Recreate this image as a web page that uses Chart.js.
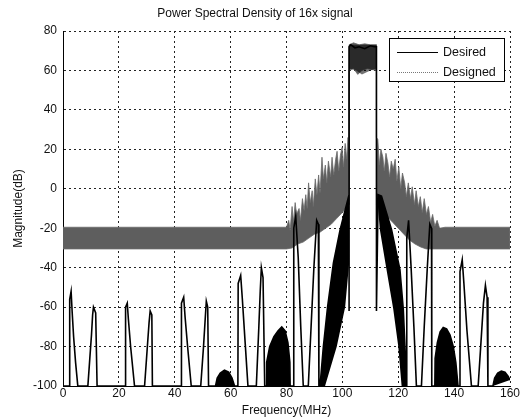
<!DOCTYPE html>
<html>
<head>
<meta charset="utf-8">
<title>Power Spectral Density of 16x signal</title>
<script src="https://cdn.jsdelivr.net/npm/chart.js@4.4.1/dist/chart.umd.min.js"></script>
<style>
  html, body { margin: 0; padding: 0; background: #fff; }
  canvas { display: block; }
</style>
</head>
<body>
<canvas id="canvas" width="531" height="420"></canvas>
<script>
const xTicks = [0, 20, 40, 60, 80, 100, 120, 140, 160];
const yTicks = [-100, -80, -60, -40, -20, 0, 20, 40, 60, 80];

// Desired spectrum as [MHz, dB]
const desiredLobes = [
  [[2.3, -100], [2.4, -56], [2.9, -52], [3.3, -63], [3.8, -75], [4.5, -88], [5.3, -100]],
  [[8.9, -100], [9.6, -86], [10.2, -74], [10.6, -64], [10.9, -60], [11.7, -63], [12.2, -100]],
  [[22.3, -100], [22.4, -60], [23.0, -58], [23.4, -66], [24.2, -80], [25.6, -100]],
  [[29.2, -100], [30.2, -80], [30.8, -68], [31.2, -62], [31.8, -64], [32.0, -100]],
  [[42.3, -100], [42.4, -58], [43.2, -55], [43.7, -65], [44.6, -80], [45.9, -100]],
  [[49.3, -100], [50.3, -80], [50.9, -66], [51.3, -57], [51.8, -60], [52.1, -100]],
  [[62.6, -100], [62.7, -48], [63.6, -44], [64.2, -56], [65.2, -78], [66.2, -100]],
  [[69.2, -100], [70.1, -70], [70.6, -52], [71.0, -40], [71.6, -45], [72.2, -100]],
  [[82.6, -100], [82.6, -20], [83.3, -14], [84.2, -35], [85.1, -70], [86.0, -100]],
  [[87.8, -100], [88.8, -70], [89.8, -40], [90.8, -16], [91.4, -18], [91.6, -100]],
  [[123.0, -100], [123.1, -25], [123.7, -16], [124.6, -40], [125.6, -70], [126.5, -100]],
  [[128.3, -100], [129.3, -70], [130.4, -40], [131.3, -18], [131.9, -20], [132.0, -100]],
  [[142.0, -100], [142.1, -42], [142.9, -36], [143.5, -48], [144.6, -72], [146.2, -100]],
  [[148.6, -100], [149.6, -78], [150.5, -58], [151.2, -49], [151.8, -55], [152.1, -100]]
];
const desiredHumps = [
  [[54.6, -100], [55.2, -96], [56.3, -93.5], [57.8, -92], [59.3, -93], [60.5, -96], [61.4, -100]],
  [[72.8, -100], [72.9, -88], [74, -80], [75.5, -75], [77, -72], [78.3, -70], [79.5, -72], [80.5, -78], [81.2, -88], [81.3, -100]],
  [[133.1, -100], [133.2, -86], [134, -78], [135, -72.5], [136.1, -70.3], [137.3, -71], [138.5, -74], [139.7, -80], [140.6, -88], [141.4, -100]],
  [[153.9, -100], [154.5, -96], [155.6, -93.5], [156.9, -92.4], [158.2, -93], [159.3, -95], [160, -97]]
];
const desiredLeftEdge = [[92.0, -100], [93.2, -80], [94.7, -60], [96.8, -37.6], [99.2, -20.7], [101.5, -8], [102.4, -3], [102.4, -62]];
const desiredPassband = [[102.4, 72], [103, 73], [104.5, 71.5], [106, 72], [108, 71], [110, 72.5], [111.5, 72], [112.2, 72], [112.2, -62]];
const desiredRightEdge = [[112.8, -3], [114, -3.7], [117.6, -20.7], [120.6, -41], [121.8, -61], [122.4, -80], [123, -100]];
const desiredLeftWedge = [[92.0, -100], [93.2, -80], [94.7, -60], [96.8, -37.6], [99.2, -20.7], [101.5, -8], [102.4, -3], [102.4, -38], [101, -60], [98, -80], [93.8, -100]];
const desiredRightWedge = [[112.8, -3], [114, -3.7], [117.6, -20.7], [120.6, -41], [121.8, -61], [122.4, -80], [123, -100], [121.2, -100], [120, -80], [118.2, -61], [115.8, -41], [113.4, -20.7], [112.8, -10]];
const desiredPassbandNoise = [[102.4, 61], [102.4, 73], [112.2, 73], [112.2, 61], [110, 60], [107, 58], [105, 60]];

// Designed spectrum: edges of the noisy band, [MHz, dB]
const designedUpper = [
  [0, -19.5], [80, -19.5], [80.8, -16], [81.3, -21], [82.0, -9], [82.5, -17], [83.1, -7], [83.6, -13],
  [84.5, -10], [85.0, -16], [85.7, -5], [86.3, -11], [86.9, -3], [87.4, -10], [87.9, 3], [88.5, -7],
  [89.2, -1], [89.6, -9], [90.3, 5], [90.9, -3], [91.5, 7], [92.0, -2], [92.7, 16], [93.2, 5],
  [93.9, 12], [94.4, 3], [95.0, 14], [95.8, 6], [96.3, 16], [96.9, 7], [97.6, 15], [98.1, 19],
  [98.7, 9], [99.3, 17], [99.9, 21], [100.4, 11], [101.0, 23], [101.5, 15], [102.0, 26], [102.4, 22],
  [102.4, 73], [104, 74], [106, 73], [108, 73.5], [110, 73], [112.2, 73],
  [112.2, 26], [112.7, 25], [113.2, 12], [113.8, 20], [114.5, 16], [115.0, 9], [115.6, 18], [116.3, 13],
  [116.9, 6], [117.5, 14], [118.2, 10], [118.9, 15], [119.5, 4], [120.2, 11], [120.9, 0], [121.5, 8],
  [122.3, 3], [122.9, -4], [123.6, 3], [124.4, -5], [125.0, 1], [125.8, -8], [126.4, -1], [127.2, -9],
  [127.9, -4], [128.6, -12], [129.3, -5], [130.1, -13], [130.8, -9], [131.6, -17], [132.3, -13], [133.1, -19],
  [133.9, -16], [134.8, -20], [136.8, -19.5], [160, -19.5]
];
const designedLower = [
  [0, -30.5], [80, -30.5], [82, -30], [84, -28], [86, -27], [88, -25], [90, -23], [92, -22],
  [94, -20], [96, -18], [98, -15], [100, -12], [102.4, -8],
  [102.4, 60], [104, 61], [105.5, 58], [107, 60], [109, 61], [112.2, 60],
  [112.2, -8], [114, -11], [116, -14], [118, -17], [120, -20], [122, -23], [124, -26], [126, -28],
  [128, -29.5], [130, -30.5], [160, -30.5]
];

const toPoints = (arr) => arr.map(([x, y]) => ({ x, y }));

const desiredSegments = [...desiredLobes, ...desiredHumps, desiredLeftEdge, desiredPassband, desiredRightEdge]
  .slice()
  .sort((a, b) => a[0][0] - b[0][0]);
const desiredLine = [[0, -100]].concat(...desiredSegments);
const designedBand = designedUpper.concat(designedLower.slice().reverse());

const FONT = '"Liberation Sans", Arial, sans-serif';
const gridDash = () => [2, 3]; // function form, an array literal here is read per tick

const shape = (arr) => ({
  data: toPoints(arr),
  borderWidth: 0,
  backgroundColor: "#000",
  fill: "shape",
  pointRadius: 0,
});

const boxLegend = {
  id: "boxLegend",
  afterDatasetsDraw(chart) {
    const { ctx, chartArea } = chart;
    const w = 116, h = 44;
    const x = chartArea.right - 5 - w;
    const y = chartArea.top + 7;
    ctx.save();
    ctx.fillStyle = "#fff";
    ctx.fillRect(x, y, w, h);
    ctx.strokeStyle = "#000";
    ctx.lineWidth = 1;
    ctx.strokeRect(x + 0.5, y + 0.5, w - 1, h - 1);
    ctx.font = "12.5px " + FONT;
    ctx.textBaseline = "middle";
    chart.data.datasets.filter((d) => d.inLegend).forEach((d, i) => {
      const ly = Math.round(y + 14 + i * 20) + 0.5;
      ctx.strokeStyle = d.legendColor;
      ctx.setLineDash(d.legendDash || []);
      ctx.beginPath();
      ctx.moveTo(x + 8, ly);
      ctx.lineTo(x + 49, ly);
      ctx.stroke();
      ctx.setLineDash([]);
      ctx.fillStyle = "#111";
      ctx.fillText(d.label, x + 54, ly);
    });
    ctx.restore();
  },
};

const ctx = document.getElementById("canvas").getContext("2d");

new Chart(ctx, {
  type: "line",
  data: {
    datasets: [
      {
        label: "Desired",
        inLegend: true,
        legendColor: "#000",
        data: toPoints(desiredLine),
        borderColor: "#000",
        borderWidth: 1.6,
        pointRadius: 0,
        fill: false,
        tension: 0,
      },
      ...desiredHumps.map(shape),
      shape(desiredLeftWedge),
      shape(desiredRightWedge),
      Object.assign(shape(desiredPassbandNoise), { backgroundColor: "rgba(0, 0, 0, 0.55)" }),
      {
        label: "Designed",
        inLegend: true,
        legendColor: "#777",
        legendDash: [1, 1],
        data: toPoints(designedBand),
        borderColor: "#6a6a6a",
        borderWidth: 0.8,
        backgroundColor: "#5e5e5e",
        fill: "shape",
        pointRadius: 0,
        tension: 0,
      },
    ],
  },
  options: {
    responsive: false,
    animation: false,
    events: [],
    layout: { padding: { left: 0, right: 21, top: 0, bottom: 0 } },
    scales: {
      x: {
        type: "linear",
        min: xTicks[0],
        max: xTicks[xTicks.length - 1],
        afterFit: (scale) => { scale.height = 34; },
        ticks: {
          stepSize: xTicks[1] - xTicks[0],
          autoSkip: false,
          maxRotation: 0,
          padding: 0,
          color: "#111",
          font: { family: FONT, size: 12 },
        },
        grid: { color: "#222", lineWidth: 1, drawTicks: false },
        border: { display: true, color: "#000", width: 1, dash: gridDash },
        title: {
          display: true,
          text: "Frequency(MHz)",
          color: "#111",
          font: { family: FONT, size: 12 },
          padding: { top: 0, bottom: 2 },
        },
      },
      y: {
        min: yTicks[0],
        max: yTicks[yTicks.length - 1],
        afterFit: (scale) => { scale.width = 63; },
        ticks: {
          stepSize: yTicks[1] - yTicks[0],
          autoSkip: false,
          padding: 6,
          color: "#111",
          font: { family: FONT, size: 12 },
        },
        grid: { color: "#222", lineWidth: 1, drawTicks: false },
        border: { display: true, color: "#000", width: 1, dash: gridDash },
        title: {
          display: true,
          text: "Magnitude(dB)",
          color: "#111",
          font: { family: FONT, size: 12 },
          padding: { top: 11, bottom: 0 },
        },
      },
    },
    plugins: {
      legend: { display: false },
      tooltip: { enabled: false },
      title: {
        display: true,
        text: "Power Spectral Density of 16x signal",
        color: "#111",
        font: { family: FONT, size: 12, weight: "normal" },
        padding: { top: 6, bottom: 10.6 },
      },
    },
  },
  plugins: [boxLegend],
});
</script>
</body>
</html>
